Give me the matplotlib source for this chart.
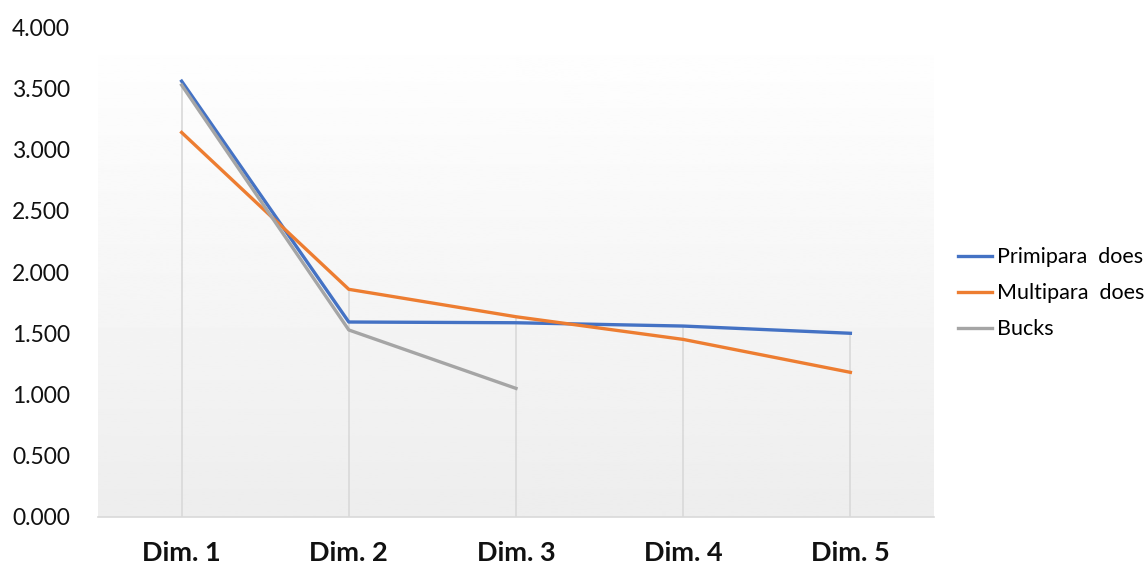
import numpy as np
import matplotlib.pyplot as plt

plt.rcParams['font.family'] = ['Lato', 'DejaVu Sans']

# Mean scores per dimension
dims = ["Dim. 1", "Dim. 2", "Dim. 3", "Dim. 4", "Dim. 5"]
primipara = [3.559, 1.592, 1.586, 1.559, 1.500]
multipara = [3.140, 1.859, 1.635, 1.450, 1.181]
bucks = [3.527, 1.527, 1.050]

fig = plt.figure(figsize=(11.45, 5.65), dpi=100)
ax = fig.add_axes([0.0856, 0.085, 0.7301, 0.867])

x = np.arange(len(dims))
ax.set_xlim(-0.5, len(dims) - 0.5)
ax.set_ylim(0, 4)

# soft vertical gradient behind the plot
grad = np.linspace(0.93, 1.0, 256).reshape(-1, 1)
ax.imshow(grad, cmap='gray', vmin=0, vmax=1, aspect='auto',
          extent=(-0.5, len(dims) - 0.5, 0, 4), origin='lower', zorder=0)

# drop lines from the highest point of each category
tops = [max(v) for v in zip(primipara, multipara, bucks + [0, 0])]
ax.vlines(x, 0, tops, color='#d9d9d9', lw=1.2, zorder=1)

ax.plot(x, primipara, color='#4472C4', lw=2.4, label='Primipara  does', zorder=3)
ax.plot(x, multipara, color='#ED7D31', lw=2.4, label='Multipara  does', zorder=3)
ax.plot(x[:len(bucks)], bucks, color='#A5A5A5', lw=2.4, label='Bucks', zorder=3)

ax.set_xticks(x)
ax.set_xticklabels(dims, fontsize=19.5, fontweight='bold')
ax.set_yticks(np.arange(0, 4.01, 0.5))
ax.set_yticklabels([f"{v:.3f}" for v in np.arange(0, 4.01, 0.5)], fontsize=16.5)
ax.tick_params(axis='both', length=0, colors='#111111')
ax.tick_params(axis='x', pad=17)
ax.tick_params(axis='y', pad=20)

for side in ['top', 'right', 'left']:
    ax.spines[side].set_visible(False)
ax.spines['bottom'].set_color('#d9d9d9')
ax.spines['bottom'].set_linewidth(1.2)

fig.legend(loc='center left', bbox_to_anchor=(0.8198, 0.481), frameon=False,
           fontsize=15.5, handlelength=1.6, handletextpad=0.2, labelspacing=0.75)

fig.savefig('out.png', dpi=100)
